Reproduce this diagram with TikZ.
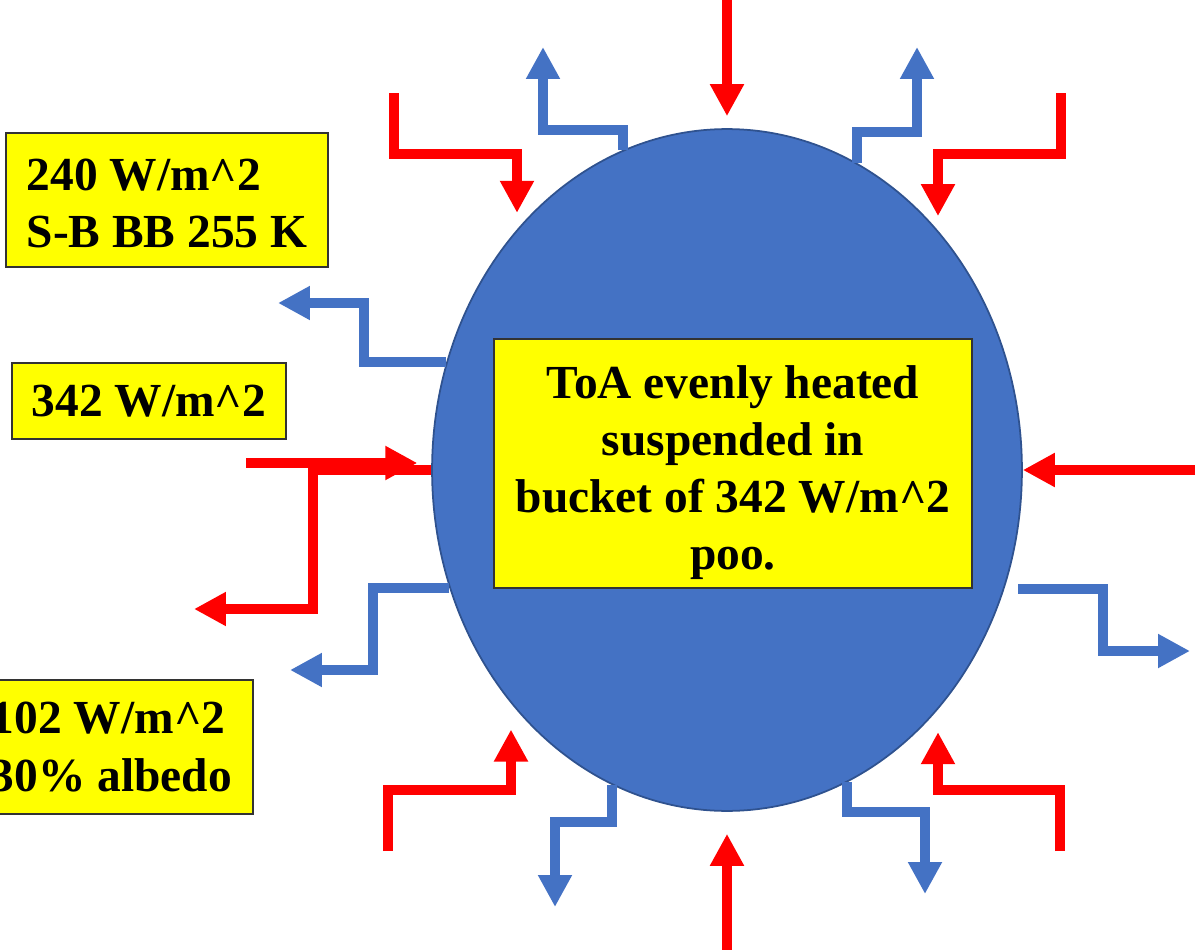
\documentclass[tikz,border=0pt]{standalone}
\usepackage{fontspec}
\setmainfont{Liberation Serif}
\usepackage{xcolor}
\definecolor{earthBlue}{HTML}{4472C4}
\definecolor{earthEdge}{HTML}{2F528F}
\definecolor{heatRed}{HTML}{FF0000}
\definecolor{noteYellow}{HTML}{FFFF00}
\usetikzlibrary{positioning,arrows.meta,shapes.geometric}
\tikzset{%
  fluxBox/.style={
    rectangle, draw=black!80, line width=0.8pt, fill=noteYellow,
    inner sep=0pt, align=left,
    font=\fontsize{27}{32.5}\selectfont\bfseries},
  earthBlob/.style={
    ellipse, draw=earthEdge, line width=1pt, fill=earthBlue,
    minimum width=11.8cm, minimum height=13.64cm, inner sep=0pt},
  fluxTip/.style={-{Triangle[length=0.64cm,width=0.64cm]}, line width=0.2cm},
  arrowIn/.style ={fluxTip, heatRed},
  arrowOut/.style={fluxTip, earthBlue},
}

\begin{document}
\begin{tikzpicture}[x=0.02cm, y=-0.02cm]
  \useasboundingbox (0,0) rectangle (1204,950);
  \node[earthBlob] (earth) at (727,470) {};

  \coordinate (tlBend) at (543,130);   \coordinate (tlTip) at (543,47);
  \coordinate (trBend) at (917,132);   \coordinate (trTip) at (917,47);
  \coordinate (luBend) at (364,303);   \coordinate (luTip) at (278,303);
  \coordinate (llBend) at (373,670);   \coordinate (llTip) at (290,670);
  \coordinate (rlStart) at (1018,589);
  \coordinate (rlBend) at (1103,651);  \coordinate (rlTip) at (1190,651);
  \coordinate (brBend) at (925,812);   \coordinate (brTip) at (925,894);
  \coordinate (blBend) at (555,822);   \coordinate (blTip) at (555,907);
  \coordinate (lrBend) at (313,609);   \coordinate (lrTip) at (194,609);

  \coordinate (topSrc) at (727,-5);    \coordinate (botSrc) at (727,955);
  \coordinate (rtSrc) at (1195,470);   \coordinate (lfSrc) at (246,463);
  \coordinate (tlSrc) at (394,93);     \coordinate (tlJog) at (517,154);
  \coordinate (trSrc) at (1061,93);    \coordinate (trJog) at (938,154);
  \coordinate (blSrc) at (388,851);    \coordinate (blJog) at (511,790);
  \coordinate (brSrc) at (1060,851);   \coordinate (brJog) at (938,790);

  \draw[arrowOut] (earth.108.4) |- (tlBend) -- (tlTip);
  \draw[arrowOut] (earth.67.4) |- (trBend) -- (trTip);
  \draw[arrowOut] (earth.159.5) -| (luBend) -- (luTip);
  \draw[arrowOut] (earth.203.7) -| (llBend) -- (llTip);
  \draw[arrowOut] (rlStart) -| (rlBend) -- (rlTip);
  \draw[arrowOut] (earth.291.1) |- (brBend) -- (brTip);
  \draw[arrowOut] (earth.250.8) |- (blBend) -- (blTip);

  \draw[arrowIn] (earth.180.6) -| (lrBend) -- (lrTip);
  \draw[arrowIn, shorten >=0.24cm] (topSrc) -- (earth.north);
  \draw[arrowIn, shorten >=0.44cm] (botSrc) -- (earth.south);
  \draw[arrowIn] (rtSrc) -- (earth.east);
  \draw[arrowIn, shorten >=0.28cm] (lfSrc) -- (lfSrc -| earth.178.6);
  \draw[arrowIn, shorten >=0.32cm] (tlSrc) |- (tlJog) -- (tlJog |- earth.131.3);
  \draw[arrowIn, shorten >=0.34cm] (trSrc) |- (trJog) -- (trJog |- earth.48.5);
  \draw[arrowIn, shorten >=0.54cm] (blSrc) |- (blJog) -- (blJog |- earth.227.1);
  \draw[arrowIn, shorten >=0.42cm] (brSrc) |- (brJog) -- (brJog |- earth.311.5);

  \node[fluxBox, align=center, minimum width=9.56cm, minimum height=4.98cm] (toa) at (733,463.5)
    {\rule{0pt}{29pt}ToA evenly heated\\suspended in\\bucket of 342 W/m\textasciicircum2\\poo.};
  \node[fluxBox, minimum width=6.44cm, minimum height=2.68cm] (olr) at (167,200)
    {\rule{0pt}{22pt}240 W/m\textasciicircum2\\S-B BB 255 K};
  \node[fluxBox, minimum width=5.48cm, minimum height=1.52cm] (solar) at (149,401)
    {342 W/m\textasciicircum2};
  \node[fluxBox, minimum width=5.66cm, minimum height=2.68cm] (albedo) at (111.5,747)
    {102 W/m\textasciicircum2\\30\% albedo};
\end{tikzpicture}
\end{document}
